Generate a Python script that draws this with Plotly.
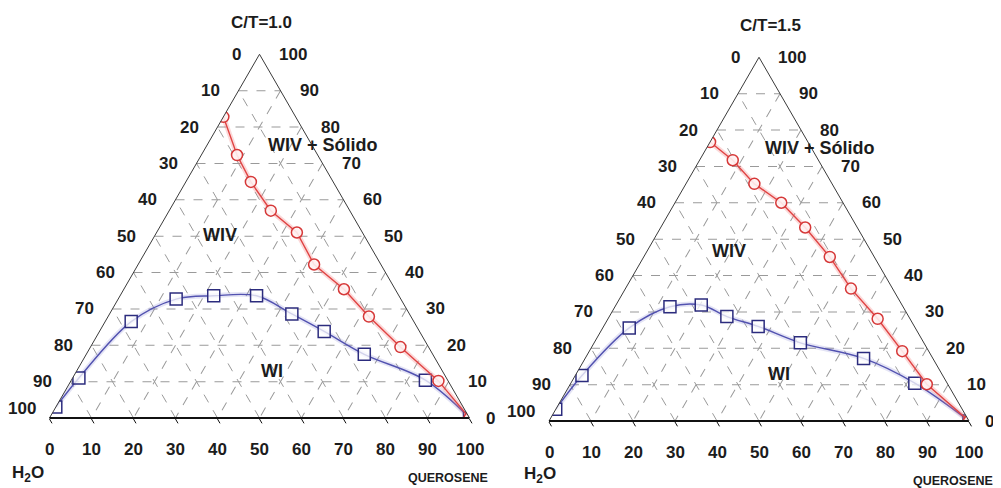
import plotly.graph_objects as go

W, H = 1001, 488
OFF = 8  # page body margin of the browser

tick_vals = [0, 10, 20, 30, 40, 50, 60, 70, 80, 90, 100]

# ---- C/T = 1.0  (values in %: a = C/T, b = H2O, c = querosene)
wi1_ct = [3.0, 11.0, 26.5, 32.7, 33.6, 33.6, 28.6, 23.8, 17.5, 10.4, 0.0]
wi1_h2o = [97.0, 87.5, 67.3, 53.5, 44.1, 33.9, 28.0, 22.7, 16.3, 5.3, 0.0]
wi1_ker = [0.0, 1.5, 6.2, 13.8, 22.3, 32.5, 43.4, 53.5, 66.2, 84.3, 100.0]

wiv1_ct = [82.8, 72.3, 64.9, 57.0, 51.0, 42.2, 35.4, 27.9, 19.5, 10.2, 0.0]
wiv1_h2o = [17.2, 19.2, 19.6, 18.8, 15.6, 15.9, 12.2, 10.0, 6.7, 2.3, 0.0]
wiv1_ker = [0.0, 8.5, 15.5, 24.2, 33.4, 41.9, 52.4, 62.1, 73.8, 87.5, 100.0]

# ---- C/T = 1.5
wi2_ct = [3.2, 12.5, 25.6, 31.4, 31.9, 28.7, 26.0, 21.5, 17.2, 10.4, 0.0]
wi2_h2o = [96.8, 85.9, 68.1, 55.5, 47.8, 43.3, 37.2, 29.4, 16.5, 7.7, 0.0]
wi2_ker = [0.0, 1.6, 6.3, 13.1, 20.3, 28.0, 36.8, 49.1, 66.3, 81.9, 100.0]

wiv2_ct = [76.7, 71.7, 65.2, 60.0, 53.2, 45.1, 36.4, 28.1, 19.2, 10.1, 0.0]
wiv2_h2o = [23.3, 20.4, 18.5, 14.7, 12.4, 10.6, 9.9, 7.7, 6.3, 5.0, 0.0]
wiv2_ker = [0.0, 7.9, 16.3, 25.3, 34.4, 44.3, 53.7, 64.2, 74.5, 84.9, 100.0]

titles = ["C/T=1.0", "C/T=1.5"]
region_labels = ["WIV + Sólido", "WIV", "WI"]
vertex_labels = ["H<sub>2</sub>O", "QUEROSENE"]

BLUE_LINE = "#5252b0"
BLUE_MK = "#2c2c7e"
RED_LINE = "#e04444"
RED_MK = "#d63838"
TXT = "#1c1c1c"
FONT = "Liberation Sans"

fig = go.Figure()


def add_series(sub, ct, h2o, ker, kind):
    if kind == "WI":
        halo = "rgba(130,130,210,0.22)"
        line_c, mk_c, sym, shape = BLUE_LINE, BLUE_MK, "square", "spline"
        fill = "rgba(255,255,255,0.75)"
    else:
        halo = "rgba(240,120,120,0.28)"
        line_c, mk_c, sym, shape = RED_LINE, RED_MK, "circle", "linear"
        fill = "rgba(255,242,242,0.9)"
    fig.add_trace(go.Scatterternary(
        a=ct, b=h2o, c=ker, subplot=sub, mode="lines",
        line=dict(color=halo, width=5, shape=shape),
        showlegend=False, hoverinfo="skip"))
    fig.add_trace(go.Scatterternary(
        a=ct, b=h2o, c=ker, subplot=sub, mode="lines+markers",
        line=dict(color=line_c, width=1.4, shape=shape),
        marker=dict(symbol=sym, size=11 if kind != "WI" else 12, color=fill,
                    line=dict(color=mk_c, width=1.5)),
        showlegend=False, name=kind))


add_series("ternary", wi1_ct, wi1_h2o, wi1_ker, "WI")
add_series("ternary", wiv1_ct, wiv1_h2o, wiv1_ker, "WIV")
add_series("ternary2", wi2_ct, wi2_h2o, wi2_ker, "WI")
add_series("ternary2", wiv2_ct, wiv2_h2o, wiv2_ker, "WIV")


def side_axis():
    return dict(
        tickmode="array", tickvals=tick_vals, showticklabels=False, ticks="",
        linecolor="#3a3a3a", linewidth=1, title=dict(text=""),
        showgrid=True, gridcolor="#9a9a9a", griddash="dash", gridwidth=1,
    )


def bottom_axis():
    return dict(
        tickmode="array", tickvals=tick_vals, showticklabels=False,
        ticks="outside", ticklen=5, tickcolor="#111", tickwidth=1,
        linecolor="#111", linewidth=2, title=dict(text=""),
        showgrid=True, gridcolor="#9a9a9a", griddash="dash", gridwidth=1,
    )


# triangle geometry on screen (px): left x, side length, bottom y
geo = [dict(xl=49.5, s=420.0, yb=418.0), dict(xl=549.0, s=420.0, yb=421.0)]


def dom(g):
    h = g["s"] * 3 ** 0.5 / 2
    x0, x1 = g["xl"] - OFF, g["xl"] + g["s"] - OFF
    ytop, ybot = g["yb"] - h - OFF, g["yb"] - OFF
    return dict(x=[x0 / W, x1 / W], y=[1 - ybot / H, 1 - ytop / H])


def tern(g):
    return dict(sum=100, bgcolor="white", domain=dom(g),
                aaxis=side_axis(), baxis=bottom_axis(), caxis=side_axis())


fig.update_layout(
    width=W, height=H, paper_bgcolor="white",
    margin=dict(l=0, r=0, t=0, b=0),
    ternary=tern(geo[0]), ternary2=tern(geo[1]),
)


def ann(text, X, Y, font, xanchor="center"):
    fig.add_annotation(text=text, x=(X - OFF) / W, y=1 - (Y - OFF) / H,
                       xref="paper", yref="paper", showarrow=False, font=font,
                       xanchor=xanchor, yanchor="middle")


tickf = dict(family=FONT, size=17, color=TXT, weight="bold")
labf = dict(family=FONT, size=18, color=TXT, weight="bold")
titf = dict(family=FONT, size=17, color=TXT, weight="bold")
vertf = dict(family=FONT, size=17, color=TXT, weight="bold")
smallf = dict(family=FONT, size=12.5, color=TXT, weight="bold")

# tick labels along the three edges
for g in geo:
    s, xl, yb = g["s"], g["xl"], g["yb"]
    h = s * 3 ** 0.5 / 2
    for v in tick_vals:
        y = yb - v / 100 * h
        # left edge: H2O content (100 at the H2O corner)
        gap_l = 12 if v == 0 else 17
        ann(str(100 - v), xl + v / 100 * s / 2 - gap_l, y - (10 if v == 0 else 0), tickf, "right")
        # right edge: C/T content (100 at the apex)
        gap_r = 14 if v == 0 else 17
        ann(str(v), xl + s - v / 100 * s / 2 + gap_r, y, tickf, "left")
        # bottom edge: querosene content
        ann(str(v), xl + v / 100 * s, yb + 31, tickf)


def at(g, a_pct, dx):
    """screen position on the right-edge side of the triangle, at C/T level a_pct"""
    h = g["s"] * 3 ** 0.5 / 2
    y = g["yb"] - a_pct / 100 * h
    x = g["xl"] + g["s"] - a_pct / 100 * g["s"] / 2 + dx
    return x, y


ann(titles[0], 261, 23, titf)
ann(titles[1], 770, 25, titf)

x, y = at(geo[0], 75, 11)
ann(region_labels[0], x, y, labf)
ann(region_labels[1], 220, 235, labf)
ann(region_labels[2], 272, 371, labf)
ann(vertex_labels[0], 28, 474, vertf)
ann(vertex_labels[1], 448, 478, smallf)

x, y = at(geo[1], 75, 8)
ann(region_labels[0], x, y, labf)
ann(region_labels[1], 729, 251, labf)
ann(region_labels[2], 779, 374, labf)
ann(vertex_labels[0], 540, 475, vertf)
ann(vertex_labels[1], 953, 481, smallf)

fig.write_html("out.html")
